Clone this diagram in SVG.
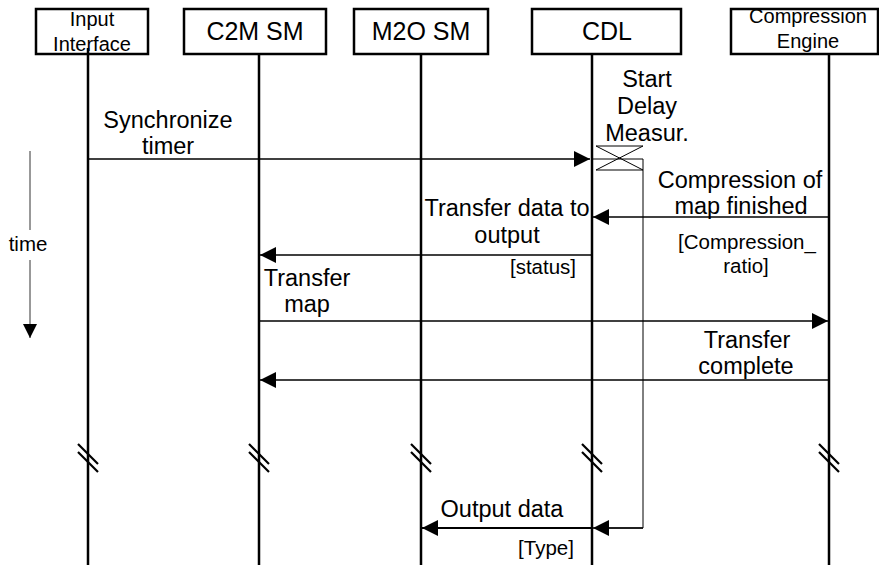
<svg xmlns="http://www.w3.org/2000/svg" width="879" height="569" viewBox="0 0 879 569">
<style>
text { font-family: "Liberation Sans", Arial, sans-serif; fill: #000; text-anchor: middle; }
.hdr { font-size: 25px; }
.hdrs { font-size: 20px; }
.msg { font-size: 23.5px; }
.note { font-size: 20.5px; }
.box { fill: #fff; stroke: #000; stroke-width: 2.5; }
.life { stroke: #000; stroke-width: 2.5; fill: none; }
.brk { stroke: #000; stroke-width: 2.2; fill: none; }
.m { stroke: #000; stroke-width: 1.5; fill: none; marker-end: url(#ah); }
.mb { stroke: #000; stroke-width: 2.2; fill: none; marker-end: url(#ah); }
.thin { stroke: #000; stroke-width: 1; fill: none; }
</style>
<defs>
<marker id="ah" markerUnits="userSpaceOnUse" markerWidth="16" markerHeight="16" viewBox="0 0 16 16" refX="16" refY="8" orient="auto">
<path d="M0,0 L16,8 L0,16 z" fill="#000"/>
</marker>
<marker id="ahs" markerUnits="userSpaceOnUse" markerWidth="14" markerHeight="14" viewBox="0 0 14 14" refX="14" refY="7" orient="auto">
<path d="M0,0 L14,7 L0,14 z" fill="#000"/>
</marker>
</defs>
<rect width="879" height="569" fill="#fff"/>

<g id="time-axis">
<line x1="30" y1="151" x2="30" y2="230" stroke="#333" stroke-width="1"/>
<line x1="30" y1="260" x2="30" y2="338" stroke="#333" stroke-width="1" marker-end="url(#ahs)"/>
<text class="note" x="28" y="251">time</text>
</g>

<g id="input-interface">
<line class="life" x1="88" y1="48" x2="88" y2="565"/>
<rect class="box" x="36" y="9" width="112" height="45" style="fill:none"/>
<text class="hdrs" x="92" y="26">Input</text>
<text class="hdrs" x="92" y="51">Interface</text>
<path class="brk" d="M78,444 L98,464 M78,452 L98,472"/>
</g>

<g id="c2m-sm">
<rect class="box" x="184" y="9" width="142" height="45"/>
<text class="hdr" x="255" y="40">C2M SM</text>
<line class="life" x1="259" y1="54" x2="259" y2="565"/>
<path class="brk" d="M249,444 L269,464 M249,452 L269,472"/>
</g>

<g id="m2o-sm">
<rect class="box" x="354" y="9" width="134" height="45"/>
<text class="hdr" x="421" y="40">M2O SM</text>
<line class="life" x1="421" y1="54" x2="421" y2="565"/>
<path class="brk" d="M411,444 L431,464 M411,452 L431,472"/>
</g>

<g id="cdl">
<rect class="box" x="532" y="9" width="149" height="45"/>
<text class="hdr" x="607" y="40">CDL</text>
<line class="life" x1="592" y1="54" x2="592" y2="565"/>
<path class="brk" d="M582,444 L602,464 M582,452 L602,472"/>
</g>

<g id="compression-engine">
<rect class="box" x="731" y="9" width="147" height="45"/>
<text class="hdrs" x="808" y="23">Compression</text>
<text class="hdrs" x="808" y="48">Engine</text>
<line class="life" x1="829" y1="54" x2="829" y2="565"/>
<path class="brk" d="M819,444 L839,464 M819,452 L839,472"/>
</g>

<g id="delay-measurement">
<text class="msg" x="647" y="87">Start</text>
<text class="msg" x="647" y="114">Delay</text>
<text class="msg" x="647" y="141">Measur.</text>
<path class="thin" d="M596,146 L643,146 L596,170 L643,170 Z"/>
<path class="thin" d="M592,159 L643,159 L643,528 L608,528"/>
</g>

<g id="connectors">
<line class="m" x1="88" y1="159" x2="590" y2="159"/>
<text class="msg" x="168" y="128">Synchronize</text>
<text class="msg" x="168" y="154">timer</text>

<line class="m" x1="829" y1="217" x2="593" y2="217"/>
<text class="msg" x="740" y="188">Compression of</text>
<text class="msg" x="741" y="214">map finished</text>
<text class="note" x="747" y="249">[Compression_</text>
<text class="note" x="746" y="273">ratio]</text>

<line class="m" x1="592" y1="255" x2="260" y2="255"/>
<text class="msg" x="507" y="216">Transfer data to</text>
<text class="msg" x="507" y="243">output</text>
<text class="note" x="543" y="274">[status]</text>

<line class="m" x1="259" y1="321" x2="828" y2="321"/>
<text class="msg" x="307" y="286">Transfer</text>
<text class="msg" x="307" y="312">map</text>

<line class="m" x1="829" y1="380" x2="260" y2="380"/>
<text class="msg" x="747" y="348">Transfer</text>
<text class="msg" x="746" y="374">complete</text>

<line class="m" x1="643" y1="528" x2="593" y2="528"/>
<line class="mb" x1="592" y1="528" x2="422" y2="528"/>
<text class="msg" x="502" y="517">Output data</text>
<text class="note" x="546" y="555">[Type]</text>
</g>
</svg>
